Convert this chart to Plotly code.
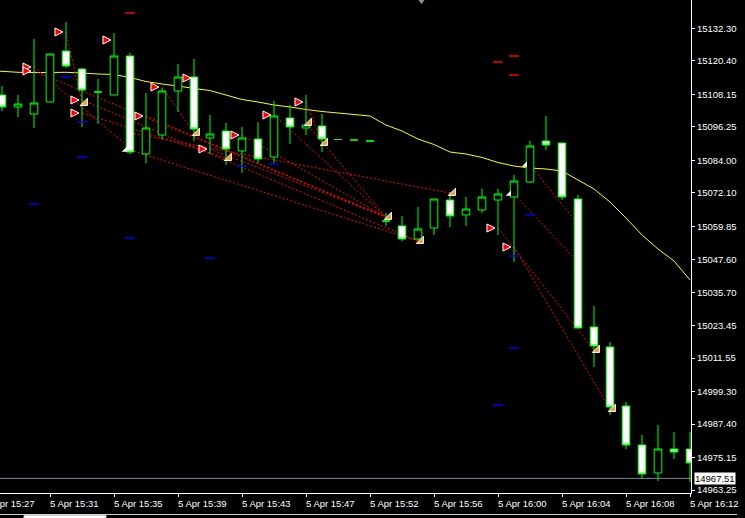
import plotly.graph_objects as go

# ---------------- data ----------------
times = ["15:28", "15:29", "15:30", "15:31", "15:32", "15:33", "15:34", "15:35", "15:36", "15:37",
         "15:38", "15:39", "15:40", "15:41", "15:42", "15:43", "15:44", "15:45", "15:46", "15:47",
         "15:48", "15:49", "15:50", "15:52", "15:53", "15:54", "15:55", "15:56", "15:57", "15:58",
         "15:59", "16:00", "16:01", "16:02", "16:03", "16:04", "16:05", "16:06", "16:07", "16:08",
         "16:09", "16:10", "16:11", "16:12"]

bar_open = [15107.94, 15103.55, 15100.98, 15105.38, 15124.06, 15117.47, 15109.04, 15107.94, 15122.23, 15086.33,
            15093.29, 15109.41, 15114.53, 15092.19, 15094.75, 15087.43, 15091.82, 15085.23, 15099.52, 15095.85,
            15096.59, 15091.64, 15091.46, 15091.09, 15061.79, 15059.96, 15055.19, 15059.22, 15069.48, 15063.99,
            15065.82, 15069.48, 15070.58, 15076.07, 15091.09, 15090.36, 15069.85, 15022.96, 15015.63, 14994.02,
            14979.74, 14969.48, 14978.27, 14978.27]
bar_high = [15111.24, 15107.94, 15128.45, 15122.96, 15134.68, 15117.83, 15113.80, 15130.65, 15123.33, 15108.67,
            15110.51, 15119.30, 15121.13, 15100.62, 15097.69, 15096.22, 15098.05, 15105.74, 15104.28, 15107.94,
            15100.98, 15091.64, 15091.46, 15091.09, 15064.72, 15063.62, 15066.92, 15069.85, 15072.41, 15070.58,
            15073.51, 15073.51, 15078.64, 15091.09, 15100.25, 15090.36, 15071.31, 15030.65, 15017.47, 14995.49,
            14983.40, 14987.06, 14984.50, 14984.50]
bar_low = [15102.08, 15099.88, 15095.85, 15105.38, 15117.83, 15096.22, 15097.32, 15107.94, 15086.33, 15083.03,
           15091.82, 15101.71, 15091.09, 15086.33, 15082.30, 15079.37, 15083.03, 15083.03, 15089.99, 15093.29,
           15087.06, 15091.64, 15091.46, 15091.09, 15059.96, 15054.46, 15054.83, 15056.66, 15059.59, 15059.96,
           15064.72, 15056.66, 15046.77, 15075.71, 15087.79, 15069.48, 15022.59, 15008.31, 14990.73, 14978.27,
           14967.28, 14966.55, 14974.61, 14966.18]
bar_close = [15103.55, 15104.64, 15105.01, 15122.96, 15118.56, 15109.77, 15109.04, 15122.23, 15087.06, 15095.85,
             15109.41, 15114.53, 15095.49, 15093.66, 15088.16, 15092.19, 15084.50, 15100.25, 15096.22, 15096.95,
             15091.82, 15091.64, 15091.46, 15091.09, 15061.79, 15055.19, 15058.86, 15069.85, 15063.62, 15066.18,
             15070.58, 15071.68, 15076.44, 15089.26, 15089.63, 15070.58, 15022.59, 15016.00, 14993.66, 14979.74,
             14969.11, 14978.27, 14977.17, 14973.14]

ma_index = list(range(-1, 44))
ma_values = [15116.73, 15116.62, 15116.26, 15116.18, 15116.18, 15116.26, 15116.00, 15115.63, 15115.45, 15114.35,
             15112.89, 15111.97, 15111.24, 15110.32, 15109.59, 15107.94, 15106.29, 15105.38, 15104.28, 15103.55,
             15102.63, 15101.90, 15101.35, 15100.80, 15100.25, 15096.95, 15094.75, 15091.82, 15089.81, 15087.06,
             15086.33, 15085.05, 15083.22, 15081.93, 15081.20, 15080.84, 15080.10, 15076.81, 15073.51, 15068.75,
             15062.89, 15056.66, 15051.53, 15047.14, 15040.18]

tick_index = [-1, 3, 7, 11, 15, 19, 23, 27, 31, 35, 39, 43]
tick_labels = ["5 Apr 15:27", "5 Apr 15:31", "5 Apr 15:35", "5 Apr 15:39", "5 Apr 15:43", "5 Apr 15:47",
               "5 Apr 15:52", "5 Apr 15:56", "5 Apr 16:00", "5 Apr 16:04", "5 Apr 16:08", "5 Apr 16:12"]
price_ticks = [15132.30, 15120.40, 15108.15, 15096.25, 15084.00, 15072.10, 15059.85, 15047.60,
               15035.70, 15023.45, 15011.55, 14999.30, 14987.40, 14975.15, 14963.25]
bid_price = 14967.51

# trade open arrows
arrow_k = [4, 2, 2, 7, 5, 5, 9, 10, 12, 13, 15, 17, 19, 31, 32]
arrow_price = [15131.02, 15118.20, 15116.73, 15128.09, 15106.11, 15101.35, 15100.25, 15110.87, 15114.17,
               15088.16, 15093.29, 15100.62, 15105.38, 15059.22, 15052.26]
# trade close markers
close_k = [5, 12, 14, 19, 20, 24, 26, 28, 37, 38]
close_price = [15105.01, 15094.02, 15084.86, 15097.69, 15090.36, 15063.25, 15054.46, 15072.04, 15014.53, 14992.92]
white_k = [8, 32, 33]
white_price = [15087.79, 15071.68, 15082.30]

# trade lines (open bar, open price, close bar, close price)
trade_k0 = [4, 2, 2, 5, 5, 8, 8, 9, 10, 13, 15, 17, 19, 19, 31, 32, 33, 32]
trade_p0 = [15131.02, 15118.20, 15116.73, 15106.11, 15101.35, 15094.02, 15087.79, 15100.25, 15110.87,
            15088.16, 15093.29, 15100.62, 15105.38, 15097.69, 15059.22, 15052.26, 15082.30, 15071.68]
trade_k1 = [5, 8, 24, 26, 14, 28, 26, 24, 12, 24, 24, 24, 20, 24, 37, 38, 36, 36]
trade_p1 = [15105.01, 15088.53, 15063.25, 15054.46, 15084.86, 15072.04, 15054.46, 15063.25, 15094.02,
            15063.25, 15063.25, 15063.25, 15090.36, 15063.25, 15014.53, 14992.92, 15060.69, 15046.77]

# stop-loss / take-profit level dashes
sl_k = [4, 5, 5, 2, 8, 13, 15, 17, 19, 33, 32, 32, 31]
sl_price = [15114.53, 15098.05, 15085.23, 15068.01, 15055.56, 15048.23, 15081.93, 15082.67, 15097.32,
            15063.99, 15048.97, 15015.27, 14994.39]
tp_k = [8, 31, 32, 32]
tp_price = [15137.98, 15120.03, 15122.23, 15115.27]

# ---------------- figure ----------------
FONT = "Tahoma, 'Liberation Sans', Arial, sans-serif"
X0, X1 = -0.125, 43.0625
Y0, Y1 = 14962.15, 15142.74

fig = go.Figure()

fig.add_trace(go.Candlestick(
    x=list(range(len(times))), open=bar_open, high=bar_high, low=bar_low, close=bar_close,
    increasing=dict(line=dict(color="#00FF00", width=1), fillcolor="#000000"),
    decreasing=dict(line=dict(color="#00FF00", width=1), fillcolor="#FFFFFF"),
    whiskerwidth=0, hoverinfo="skip", showlegend=False))

fig.add_trace(go.Scatter(
    x=sl_k, y=sl_price, mode="markers", hoverinfo="skip",
    marker=dict(symbol="line-ew", size=7, line=dict(color="#0000FF", width=1.5))))
fig.add_trace(go.Scatter(
    x=tp_k, y=tp_price, mode="markers", hoverinfo="skip",
    marker=dict(symbol="line-ew", size=7, line=dict(color="#FF0000", width=1.5))))

fig.add_trace(go.Scatter(
    x=[k - 0.3 for k in white_k], y=white_price, mode="markers", hoverinfo="skip",
    marker=dict(symbol="triangle-se", size=6, color="#FFFFFF", line=dict(color="#FFFFFF", width=0))))
fig.add_trace(go.Scatter(
    x=[k + 0.19 for k in close_k], y=close_price, mode="markers", hoverinfo="skip",
    marker=dict(symbol="triangle-se", size=8, color="#F0A030", line=dict(color="#FFFFFF", width=1))))
fig.add_trace(go.Scatter(
    x=[k - 0.19 for k in arrow_k], y=arrow_price, mode="markers", hoverinfo="skip",
    marker=dict(symbol="arrow-right", size=8, color="#FF0000", line=dict(color="#FFFFFF", width=1))))

# moving average (behind candles)
ma_path = "M " + " L ".join(f"{k},{p}" for k, p in zip(ma_index, ma_values))
fig.add_shape(type="path", path=ma_path, xref="x", yref="y", layer="below",
              line=dict(color="#FFFF00", width=1), fillcolor="rgba(0,0,0,0)")

# trade lines (behind candles)
for k0, p0, k1, p1 in zip(trade_k0, trade_p0, trade_k1, trade_p1):
    fig.add_shape(type="line", xref="x", yref="y", x0=k0, y0=p0, x1=k1, y1=p1, layer="below",
                  line=dict(color="#FF0000", width=1, dash="2px,2px"))

# bid line
fig.add_shape(type="line", xref="paper", yref="y", x0=0, x1=1, y0=bid_price, y1=bid_price,
              layer="below", line=dict(color="#778899", width=1))

# chart shift marker at top
fig.add_shape(type="path", xref="x", yref="paper",
              path="M 26.06,1 L 26.38,1 L 26.22,0.993 Z",
              fillcolor="#909090", line=dict(color="#909090", width=1))

# bottom window frame
fig.add_shape(type="line", xref="paper", yref="paper", x0=0, x1=737 / 691, y0=-0.0436, y1=-0.0436,
              line=dict(color="#D0D0D0", width=1))
fig.add_shape(type="rect", xref="paper", yref="paper", x0=24 / 691, x1=106 / 691, y0=-0.052, y1=-0.0456,
              fillcolor="#FFFFFF", line=dict(color="#D0D0D0", width=1))

# time labels, left-aligned at their ticks
for k, lab in zip(tick_index, tick_labels):
    fig.add_annotation(x=(k - X0) / (X1 - X0), xref="paper", y=0, yref="paper",
                       xanchor="left", yanchor="top", yshift=-3, xshift=-2,
                       text=lab, showarrow=False,
                       font=dict(family=FONT, size=9.5, color="#FFFFFF"))

# current price label
fig.add_annotation(x=1, xref="paper", y=bid_price, yref="y", xanchor="left", yanchor="middle",
                   xshift=3, text=f"{bid_price:.2f}", showarrow=False, bgcolor="#FFFFFF",
                   borderpad=0, font=dict(family=FONT, size=9.5, color="#000000"))

fig.update_layout(
    width=745, height=518,
    margin=dict(l=0, r=54, t=0, b=25),
    paper_bgcolor="#000000", plot_bgcolor="#000000",
    showlegend=False, boxgap=0.32, hovermode=False,
    font=dict(family=FONT, size=9.5, color="#FFFFFF"),
    xaxis=dict(range=[X0, X1], showgrid=False, zeroline=False, showline=True,
               linecolor="#FFFFFF", linewidth=1, ticks="outside", ticklen=3, tickcolor="#FFFFFF",
               tickvals=[k for k in tick_index if k >= 0], showticklabels=False,
               rangeslider=dict(visible=False), fixedrange=True),
    yaxis=dict(side="right", range=[Y0, Y1], showgrid=False, zeroline=False, showline=True,
               linecolor="#FFFFFF", linewidth=1, ticks="outside", ticklen=3, tickcolor="#FFFFFF",
               tickvals=price_ticks, ticktext=[f"{v:.2f}" for v in price_ticks],
               tickfont=dict(family=FONT, size=9.5, color="#FFFFFF"), fixedrange=True),
)

fig.write_html(
    "out.html",
    config={"displayModeBar": False, "staticPlot": True},
    post_script="document.body.style.margin='0';document.body.style.background='#000';"
                "document.body.style.overflow='hidden';",
)
